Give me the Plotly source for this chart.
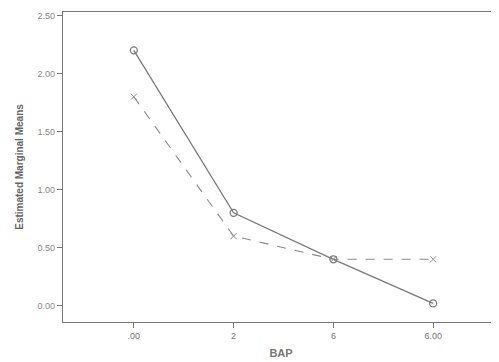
import plotly.graph_objects as go

bap = [".00", "2", "6", "6.00"]
series_a = [2.20, 0.80, 0.40, 0.02]
series_b = [1.80, 0.60, 0.40, 0.40]
y_ticks = [0.0, 0.5, 1.0, 1.5, 2.0, 2.5]
y_tick_labels = ["0.00", "0.50", "1.00", "1.50", "2.00", "2.50"]

fig = go.Figure()
fig.add_trace(go.Scatter(
    x=bap, y=series_a, mode="lines+markers",
    line=dict(color="#7a7a7a", width=1.3),
    marker=dict(symbol="circle-open", size=7, color="#7a7a7a", line=dict(width=1.3)),
    showlegend=False))
fig.add_trace(go.Scatter(
    x=bap, y=series_b, mode="lines+markers",
    line=dict(color="#8a8a8a", width=1.1, dash="dash"),
    marker=dict(symbol="x-thin-open", size=6, color="#8a8a8a", line=dict(width=1)),
    showlegend=False))

fig.update_layout(
    width=491, height=354,
    margin=dict(l=55, r=0, t=4, b=40),
    paper_bgcolor="white", plot_bgcolor="white",
    font=dict(family="Liberation Sans, Arial, sans-serif", color="#666"),
    xaxis=dict(
        type="category", range=[-0.71, 3.66], automargin=False,
        showline=True, linecolor="#777", linewidth=1.2, mirror=True,
        ticks="outside", ticklen=5, tickcolor="#777",
        showgrid=False, zeroline=False,
        tickfont=dict(size=9, color="#777"),
        title=dict(text="<b>BAP</b>", font=dict(size=11, color="#777"), standoff=9),
    ),
    yaxis=dict(
        range=[-0.14, 2.53], automargin=False,
        tickvals=y_ticks, ticktext=y_tick_labels,
        showline=True, linecolor="#777", linewidth=1.2,
        ticks="outside", ticklen=5, tickcolor="#777",
        showgrid=False, zeroline=False,
        tickfont=dict(size=9, color="#888"),
        title=dict(text="<b>Estimated Marginal Means</b>", font=dict(size=10, color="#666"), standoff=12),
    ),
)

fig.write_html("out.html")
